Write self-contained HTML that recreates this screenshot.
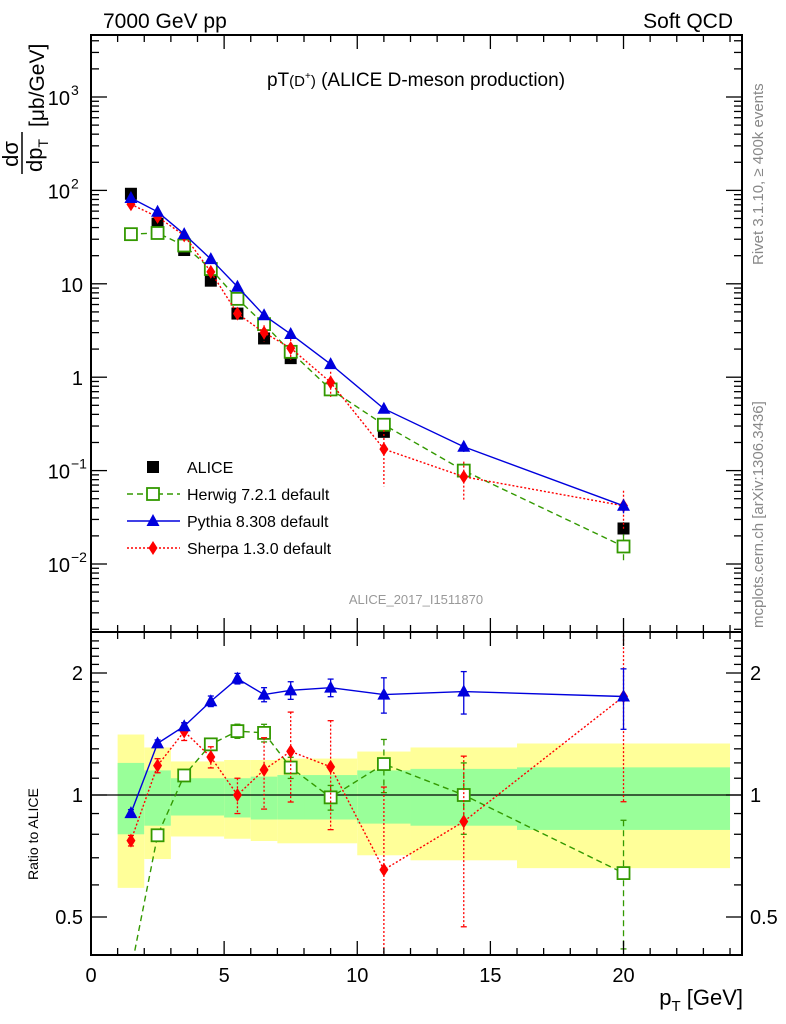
<!DOCTYPE html>
<html><head><meta charset="utf-8"><style>
html,body{margin:0;padding:0;background:#fff;}
svg{display:block;font-family:"Liberation Sans",sans-serif;}
</style></head><body>
<svg id="c" width="786" height="1024" viewBox="0 0 786 1024" xmlns="http://www.w3.org/2000/svg">
<text x="103" y="28" font-size="21">7000 GeV pp</text>
<text x="733" y="28" font-size="21" text-anchor="end">Soft QCD</text>
<text x="416" y="86" font-size="19" text-anchor="middle">pT<tspan font-size="15">(D</tspan><tspan font-size="10" dy="-7">+</tspan><tspan font-size="15" dy="7">)</tspan> (ALICE D-meson production)</text>
<text x="416" y="604" font-size="13" fill="#999" text-anchor="middle">ALICE_2017_I1511870</text>
<text transform="translate(763,265) rotate(-90)" font-size="15" fill="#888">Rivet 3.1.10, ≥ 400k events</text>
<text transform="translate(763,628) rotate(-90)" font-size="15" fill="#888">mcplots.cern.ch [arXiv:1306.3436]</text>
<g transform="translate(0,174) rotate(-90)">
<text x="20" y="18" font-size="22" text-anchor="middle">dσ</text>
<line x1="0" y1="22" x2="42" y2="22" stroke="#000" stroke-width="1.5"/>
<text x="2" y="42" font-size="22">dp<tspan font-size="14" dy="6">T</tspan></text>
<text x="47" y="44" font-size="21">[μb/GeV]</text>
</g>
<text transform="translate(38,880) rotate(-90)" font-size="14">Ratio to ALICE</text>
<text x="743" y="1005" font-size="22" text-anchor="end">p<tspan font-size="15" dy="6">T</tspan><tspan dy="-6"> [GeV]</tspan></text>
<g id="g"></g>
</svg>
<script>
const binEdges=[1,2,3,4,5,6,7,8,10,12,16,24];
const pt=[1.5,2.5,3.5,4.5,5.5,6.5,7.5,9,11,14,20];
const alice=[92,44,23,10.8,4.8,2.6,1.6,0.75,0.26,0.1,0.024];
const aliceErr=[8,4,2,0.9,0.4,0.22,0.14,0.07,0.03,0.012,0.004];
const herwig=[34,35,25.7,14.4,6.9,3.7,1.87,0.74,0.31,0.1,0.0154];
const pythia=[83,59,34,18.4,9.3,4.6,2.9,1.38,0.46,0.18,0.042];
const sherpa=[71,52,33,13.4,4.8,3.0,2.05,0.88,0.17,0.086,0.042];
const herwigRelErr=[0.03,0.03,0.03,0.03,0.04,0.05,0.06,0.07,0.15,0.2,0.35];
const pythiaRelErr=[0.02,0.02,0.02,0.03,0.03,0.04,0.05,0.05,0.1,0.12,0.17];
const sherpaRelErr=[0.03,0.04,0.05,0.06,0.1,0.2,0.25,0.3,0.6,0.45,0.45];
const yellowHi=[1.41,1.31,1.21,1.21,1.22,1.22,1.23,1.23,1.28,1.31,1.34];
const yellowLo=[0.59,0.695,0.79,0.79,0.78,0.77,0.76,0.76,0.71,0.69,0.66];
const greenHi=[1.2,1.15,1.1,1.1,1.1,1.11,1.12,1.12,1.15,1.16,1.17];
const greenLo=[0.8,0.84,0.89,0.89,0.88,0.87,0.87,0.87,0.85,0.84,0.82];
const mainTicks=["10^-2","10^-1","1","10","10^2","10^3"];
const ratioTicks=[0.5,1,2];
const xTicks=[0,5,10,15,20];

const NS="http://www.w3.org/2000/svg";
const g=document.getElementById('g');
const L=91,R=742,T=35,M=632,B=955;
const X=v=>L+(v-0)*(R-L)/24.45;
const Y=v=>97-(Math.log10(v)-3)*93.4;
const YR=v=>795-Math.log2(v)*122;
function el(t,a,p){const e=document.createElementNS(NS,t);for(const k in a)e.setAttribute(k,a[k]);(p||g).appendChild(e);return e;}

const defs=el('defs',{});
const c1=el('clipPath',{id:'cm'},defs);el('rect',{x:L,y:T,width:R-L,height:M-T},c1);
const c2=el('clipPath',{id:'cr'},defs);el('rect',{x:L,y:M,width:R-L,height:B-M},c2);
const gm=el('g',{'clip-path':'url(#cm)'});


const gr=el('g',{'clip-path':'url(#cr)'});



for(let i=0;i<pt.length;i++){
 const x0=X(binEdges[i]),x1=X(binEdges[i+1]);
 const y=el('rect',{x:x0,y:YR(yellowHi[i]),width:x1-x0,height:YR(yellowLo[i])-YR(yellowHi[i]),fill:'#ffff99'},gr);
 
 
 const gg=el('rect',{x:x0,y:YR(greenHi[i]),width:x1-x0,height:YR(greenLo[i])-YR(greenHi[i]),fill:'#99ff99'},gr);
 
 
}
el('line',{x1:L,x2:R,y1:YR(1),y2:YR(1),stroke:'#000','stroke-width':1.3},gr);

function marker(p,type,x,y,col){
 if(type==='sq') return el('rect',{x:x-6,y:y-6,width:12,height:12,fill:'#000'},p);
 if(type==='osq') return el('rect',{x:x-6,y:y-6,width:12,height:12,fill:'#fff',stroke:col,'stroke-width':1.8},p);
 if(type==='tri') return el('polygon',{points:`${x},${y-7} ${x-6.5},${y+5} ${x+6.5},${y+5}`,fill:col},p);
 if(type==='dia') return el('polygon',{points:`${x},${y-7} ${x-4.5},${y} ${x},${y+7} ${x+4.5},${y}`,fill:col},p);
}
const series=[
 {name:'herwig',vals:herwig,err:herwigRelErr,col:'#339900',dash:'6,4',type:'osq'},
 {name:'sherpa',vals:sherpa,err:sherpaRelErr,col:'#ff0000',dash:'2,2',type:'dia'},
 {name:'pythia',vals:pythia,err:pythiaRelErr,col:'#0000dd',dash:'',type:'tri'}
];
for(let i=0;i<pt.length;i++){
 el('line',{x1:X(pt[i]),x2:X(pt[i]),y1:Y(alice[i]+aliceErr[i]),y2:Y(alice[i]-aliceErr[i]),stroke:'#000','stroke-width':1.2},gm);
 const m=marker(gm,'sq',X(pt[i]),Y(alice[i]));
 
 
}
for(const s of series){
 const dash=s.dash?{'stroke-dasharray':s.dash}:{};
 const pm=el('polyline',Object.assign({points:pt.map((p,i)=>X(p)+','+Y(s.vals[i])).join(' '),fill:'none',stroke:s.col,'stroke-width':1.4},dash),gm);
 
 
 const rat=s.vals.map((v,i)=>v/alice[i]);
 const pr=el('polyline',Object.assign({points:pt.map((p,i)=>X(p)+','+YR(rat[i])).join(' '),fill:'none',stroke:s.col,'stroke-width':1.4},dash),gr);
 
 
 for(let i=0;i<pt.length;i++){
  const x=X(pt[i]);
  el('line',Object.assign({x1:x,x2:x,y1:Y(s.vals[i]*(1+s.err[i])),y2:Y(s.vals[i]*Math.max(0.05,1-s.err[i])),stroke:s.col,'stroke-width':1.3},dash),gm);
  el('line',Object.assign({x1:x,x2:x,y1:YR(rat[i]*(1+s.err[i])),y2:YR(rat[i]*Math.max(0.05,1-s.err[i])),stroke:s.col,'stroke-width':1.3},dash),gr);
  for(const yy of [YR(rat[i]*(1+s.err[i])),YR(rat[i]*Math.max(0.05,1-s.err[i]))]) el('line',{x1:x-3,x2:x+3,y1:yy,y2:yy,stroke:s.col,'stroke-width':1.3},gr);
  const m=marker(gm,s.type,x,Y(s.vals[i]),s.col);
  
  
  const m2=marker(gr,s.type,x,YR(rat[i]),s.col);
  
  
 }
}
for(const [y0,y1] of [[T,M],[M,B]]) el('rect',{x:L,y:y0,width:R-L,height:y1-y0,fill:'none',stroke:'#000','stroke-width':2});
for(let v=0;v<=24;v++){
 const big=v%5===0,x=X(v);
 for(const [y0,d] of [[T,1],[M,-1],[M,1],[B,-1]]){
  el('line',{x1:x,x2:x,y1:y0,y2:y0+d*(big?14:7),stroke:'#000','stroke-width':1.3});
 }
}
xTicks.forEach(v=>{const t=el('text',{x:X(v),y:982,'font-size':20,'text-anchor':'middle'});t.textContent=v;
 
 });
for(let e=-3;e<=3;e++){for(let k=1;k<=9;k++){const v=k*Math.pow(10,e),y=Y(v);if(y<T||y>M)continue;
 const len=k===1?16:8;
 el('line',{x1:L,x2:L+len,y1:y,y2:y,stroke:'#000','stroke-width':1.3});
 el('line',{x1:R,x2:R-len,y1:y,y2:y,stroke:'#000','stroke-width':1.3});}}
mainTicks.forEach(s=>{const [b,ex]=s.split('^');const v=ex===undefined?+b:Math.pow(10,+ex);
 const t=el('text',{x:ex===undefined?83:70,y:Y(v)+8,'font-size':20,'text-anchor':'end'});t.textContent=b;
 
 
 if(ex!==undefined){const s2=el('text',{x:71,y:Y(v)-2,'font-size':14});s2.textContent=ex.replace('-','−');}});
for(let v=0.4;v<=2.5;v+=0.1){const y=YR(v);if(y<M||y>B)continue;const big=Math.abs(v-0.5)<1e-6||Math.abs(v-1)<1e-6||Math.abs(v-2)<1e-6;const len=big?16:8;
 el('line',{x1:L,x2:L+len,y1:y,y2:y,stroke:'#000','stroke-width':1.3});
 el('line',{x1:R,x2:R-len,y1:y,y2:y,stroke:'#000','stroke-width':1.3});}
ratioTicks.forEach(v=>{for(const [x,a] of [[83,'end'],[750,'start']]){const t=el('text',{x:x,y:YR(v)+7,'font-size':20,'text-anchor':a});t.textContent=v;
 
 }});
const leg=[['ALICE','sq','#000',''],['Herwig 7.2.1 default','osq','#339900','6,4'],['Pythia 8.308 default','tri','#0000dd',''],['Sherpa 1.3.0 default','dia','#ff0000','2,2']];
leg.forEach((l,i)=>{const y=467+i*27;const lg=el('g',{});
 
 
 if(i>0) el('line',Object.assign({x1:127,x2:180,y1:y,y2:y,stroke:l[2],'stroke-width':1.4},l[3]?{'stroke-dasharray':l[3]}:{}),lg);
 marker(lg,l[1],153,y,l[2]);
 const t=el('text',{x:187,y:y+6,'font-size':16},lg);t.textContent=l[0];});
</script>
</body></html>
